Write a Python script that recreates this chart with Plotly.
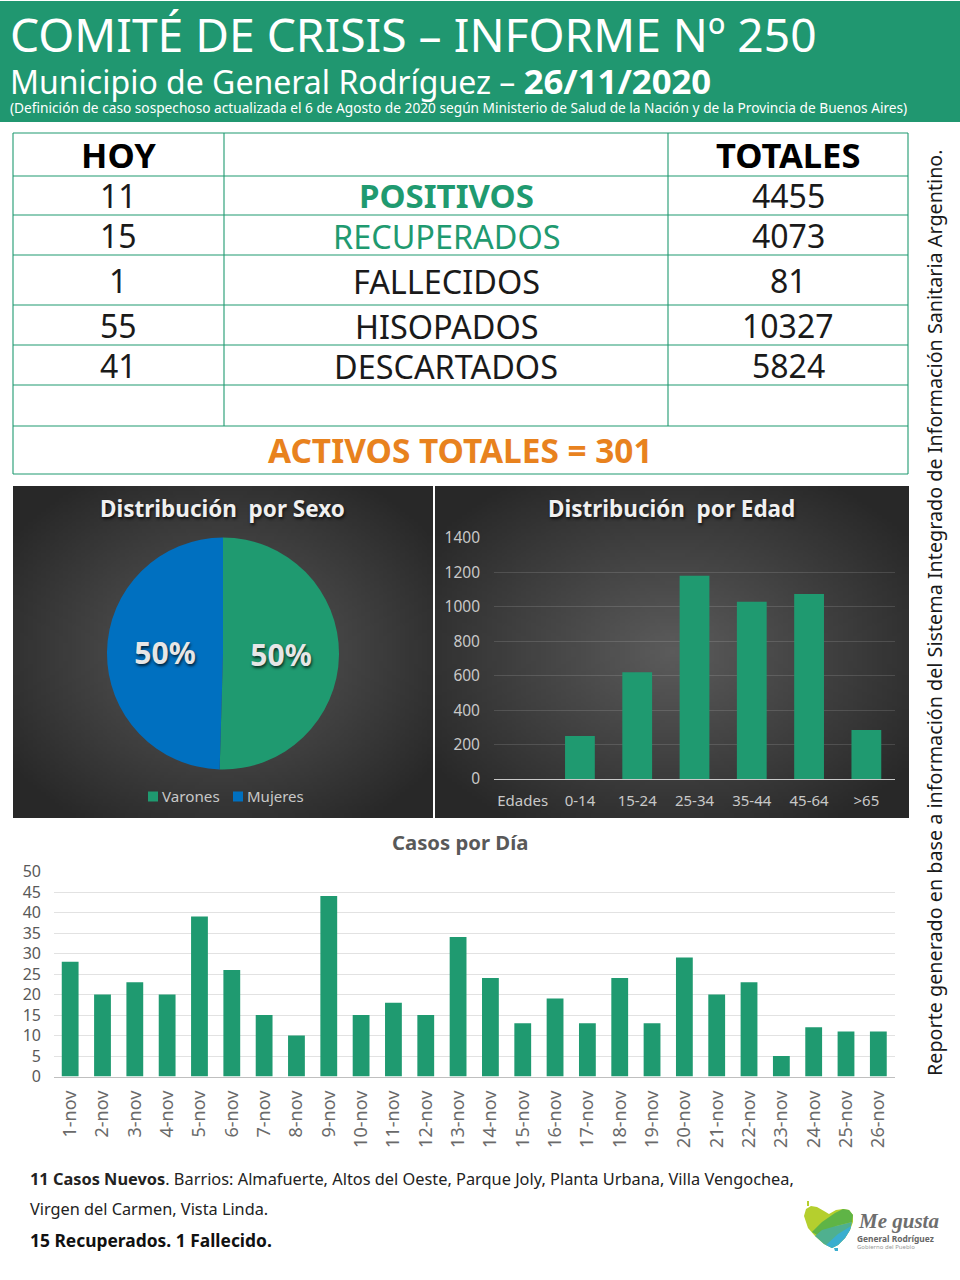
import base64, struct, zlib
import plotly.graph_objects as go

W, H = 960, 1280
FONT = "Noto Sans"
GREEN = "#1F9A70"
BLUE = "#0070C0"
ORANGE = "#E8821E"

# ---------- data ----------
sex_labels = ["Varones", "Mujeres"]
sex_values = [2248, 2207]
age_labels = ["Edades", "0-14", "15-24", "25-34", "35-44", "45-64", ">65"]
age_values = [0, 250, 620, 1180, 1030, 1075, 285]
day_labels = [f"{d}-nov" for d in range(1, 27)]
day_values = [28, 20, 23, 20, 39, 26, 15, 10, 44, 15, 18, 15, 34, 24, 13, 19, 13, 24, 13, 29, 20, 23, 5, 12, 11, 11]
row_names = ["POSITIVOS", "RECUPERADOS", "FALLECIDOS", "HISOPADOS", "DESCARTADOS"]
row_today = ["11", "15", "1", "55", "41"]
row_total = ["4455", "4073", "81", "10327", "5824"]
row_centers = [196, 236, 281, 326, 366]
row_lines = [133, 176, 215, 255, 305, 345, 385, 426, 474]


def px(x):
    return x / W


def py(y):
    return 1 - y / H


def gradient_uri():
    n = 96
    raw = bytearray()
    for j in range(n):
        raw.append(0)
        for i in range(n):
            dx = (i + .5) / n - .5
            dy = (j + .5) / n - .5
            t = min(1.0, (dx * dx + dy * dy) ** .5 / .62)
            v = int(92 - (92 - 40) * t)
            raw += bytes((v, v, v))

    def chunk(tag, data):
        return struct.pack(">I", len(data)) + tag + data + struct.pack(">I", zlib.crc32(tag + data))
    png = b"\x89PNG\r\n\x1a\n" + chunk(b"IHDR", struct.pack(">IIBBBBB", n, n, 8, 2, 0, 0, 0)) + \
        chunk(b"IDAT", zlib.compress(bytes(raw))) + chunk(b"IEND", b"")
    return "data:image/png;base64," + base64.b64encode(png).decode()


shapes, notes = [], []


def rect(x0, y0, x1, y1, color, layer="below"):
    shapes.append(dict(type="rect", xref="paper", yref="paper", x0=px(x0), x1=px(x1), y0=py(y1), y1=py(y0),
                       fillcolor=color, line=dict(width=0), layer=layer))


def line(x0, y0, x1, y1, color=GREEN, width=1.1):
    shapes.append(dict(type="line", xref="paper", yref="paper", x0=px(x0), x1=px(x1), y0=py(y0), y1=py(y1),
                       line=dict(color=color, width=width), layer="below"))


def text(x, y, s, size, color="#1a1a1a", anchor="center", angle=0, shadow=None, family=FONT):
    f = dict(family=family, size=size, color=color)
    if shadow:
        f["shadow"] = shadow
    notes.append(dict(xref="paper", yref="paper", x=px(x), y=py(y), text=s, showarrow=False, xanchor=anchor,
                      yanchor="middle", textangle=angle, font=f))


# header
rect(0, 1, 960, 122, "#209770")
text(7.5, 34, "COMITÉ DE CRISIS – INFORME Nº 250", 46.2, "white", "left")
text(7.5, 81, "Municipio de General Rodríguez – <span style=\"font-size:34.7px\"><b>26/11/2020</b></span>", 32, "white", "left")
text(7.5, 108, "(Definición de caso sospechoso actualizada el 6 de Agosto de 2020 según Ministerio de Salud de la Nación y de la Provincia de Buenos Aires)", 13.7, "white", "left")

# table
for y in row_lines:
    line(13, y, 908, y)
for x in (224, 668):
    line(x, 133, x, 426)
for x in (13, 908):
    line(x, 133, x, 474)
text(118, 154, "<b>HOY</b>", 34.5, "black")
text(788, 154, "<b>TOTALES</b>", 34.5, "black")
for i, yc in enumerate(row_centers):
    text(118, yc, row_today[i], 32)
    text(788, yc, row_total[i], 32)
    name = row_names[i]
    if i == 0:
        text(446, yc, f"<b>{name}</b>", 33, GREEN)
    elif i == 1:
        text(446, yc, name, 32.4, GREEN)
    else:
        text(446, yc, name, 32.4)
text(460, 450, "<b>ACTIVOS TOTALES = 301</b>", 33.4, ORANGE)

# side note
text(934, 613, "Reporte generado en base a información del Sistema Integrado de Información Sanitaria Argentino.", 19.75, "#1a1a1a", angle=-90)

# chart titles
glow = "1px 2px 3px rgba(0,0,0,.7)"
text(222, 508, "<b>Distribución  por Sexo</b>", 22.5, "#f0f0f0", shadow=glow)
text(671, 508, "<b>Distribución  por Edad</b>", 22.5, "#f0f0f0", shadow=glow)
text(460, 842, "<b>Casos por Día</b>", 20.3, "#595959")

# pie legend
rect(148, 791.5, 158, 801.5, GREEN, "above")
rect(233, 791.5, 243, 801.5, BLUE, "above")
text(159.5, 796, sex_labels[0], 15.2, "#c8c8c8", "left")
text(244.5, 796, sex_labels[1], 15, "#c8c8c8", "left")

# footer
text(28, 1179, "<b>11 Casos Nuevos</b>. Barrios: Almafuerte, Altos del Oeste, Parque Joly, Planta Urbana, Villa Vengochea,", 16.35, "#222", "left")
text(28, 1209, "Virgen del Carmen, Vista Linda.", 16.3, "#222", "left")
text(28, 1240, "<b>15 Recuperados. 1 Fallecido.</b>", 17.4, "#111", "left")

# logo
def path(points, color):
    d = "M " + " L ".join(f"{px(x):.5f},{py(y):.5f}" for x, y in points) + " Z"
    shapes.append(dict(type="path", xref="paper", yref="paper", path=d, fillcolor=color, line=dict(width=0), layer="above"))


path([(804, 1216), (806, 1209), (811, 1206), (817, 1207), (824, 1211), (829, 1214), (836, 1210), (843, 1209), (849, 1210), (853, 1215), (853, 1222), (850, 1230), (845, 1238), (838, 1245), (832, 1248), (824, 1244), (815, 1236), (808, 1228)], "#B5CF2E")
path([(812, 1232), (822, 1222), (835, 1213), (843, 1209), (849, 1210), (853, 1215), (852, 1222), (836, 1226), (822, 1238)], "#5FB446")
path([(815, 1236), (822, 1230), (836, 1226), (852, 1222), (850, 1230), (845, 1238), (838, 1245), (832, 1248), (824, 1244)], "#4FB08F")
path([(826, 1245), (838, 1234), (851, 1226), (850, 1230), (845, 1238), (838, 1245), (832, 1248)], "#3AAECF")
path([(834, 1248), (838, 1248), (838, 1251), (835, 1251)], "#3AAECF")
path([(807, 1201), (809, 1201), (809, 1206), (807, 1206)], "#B5CF2E")
text(856, 1221, "<b><i>Me gusta</i></b>", 21, "#6E6E6E", "left", family="Liberation Serif")
text(855, 1238, "<b>General Rodríguez</b>", 8.4, "#666", "left")
text(855, 1247, "Gobierno del Pueblo", 6, "#999", "left")

grad = gradient_uri()
images = [dict(source=grad, xref="paper", yref="paper", x=px(x0), y=py(486), sizex=px(x1 - x0), sizey=(818 - 486) / H,
               xanchor="left", yanchor="top", sizing="stretch", layer="below") for x0, x1 in ((13, 433), (435, 909))]

fig = go.Figure()
fig.add_trace(go.Pie(
    labels=sex_labels, values=sex_values, sort=False, direction="clockwise", rotation=0,
    marker=dict(colors=[GREEN, BLUE], line=dict(width=0)),
    domain=dict(x=[px(107), px(339)], y=[py(770), py(537)]),
    texttemplate="%{percent:.0%}", textposition="inside", insidetextorientation="horizontal",
    insidetextfont=dict(family=FONT, size=30, color="#e6e6e6", shadow="1px 2px 3px rgba(0,0,0,.7)", weight="bold"),
    showlegend=False, hoverinfo="label+percent"))
fig.add_trace(go.Bar(x=age_labels, y=age_values, marker=dict(color=GREEN, line=dict(width=0)),
                     xaxis="x", yaxis="y", showlegend=False))
fig.add_trace(go.Bar(x=day_labels, y=day_values, marker=dict(color=GREEN, line=dict(width=0)),
                     xaxis="x2", yaxis="y2", showlegend=False))

fig.update_layout(
    width=W, height=H, margin=dict(l=0, r=0, t=0, b=0, pad=0), autosize=False,
    paper_bgcolor="white", plot_bgcolor="rgba(0,0,0,0)", showlegend=False,
    font=dict(family=FONT), bargap=0.48, shapes=shapes, annotations=notes, images=images,
    xaxis=dict(domain=[px(494), px(895)], anchor="y", type="category", tickfont=dict(size=15, color="#c8c8c8"), automargin=False,
               showgrid=False, ticks="", showline=True, linecolor="#c8c8c8", linewidth=1, ticklabelstandoff=8, fixedrange=True),
    yaxis=dict(domain=[py(779), py(538)], anchor="x", range=[0, 1400], tick0=0, dtick=200, automargin=False,
               tickfont=dict(size=15.5, color="#c8c8c8"), gridcolor="rgba(255,255,255,.13)", gridwidth=1,
               zeroline=False, ticks="", ticklabelstandoff=13, fixedrange=True),
    xaxis2=dict(domain=[px(54), px(894.5)], anchor="y2", type="category", tickangle=-90, tickfont=dict(size=18, color="#6a6a6a"), automargin=False,
                showgrid=False, ticks="", showline=True, linecolor="#bfbfbf", linewidth=1, ticklabelstandoff=6, fixedrange=True),
    yaxis2=dict(domain=[py(1076.5), py(871.5)], anchor="x2", range=[0, 50], tick0=0, dtick=5, automargin=False,
                tickfont=dict(size=16, color="#595959"), gridcolor="#e2e2e2", gridwidth=1,
                zeroline=False, ticks="", ticklabelstandoff=12, fixedrange=True),
)
fig.write_html("out.html", config=dict(displayModeBar=False),
               post_script="document.body.style.margin='0';")
